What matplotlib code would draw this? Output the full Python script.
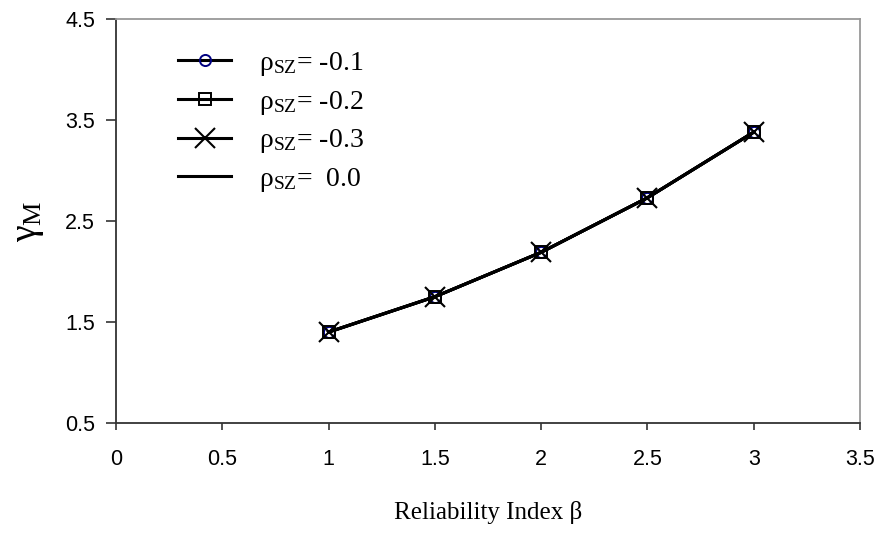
import matplotlib
matplotlib.use("Agg")
import matplotlib.pyplot as plt

beta = [1.0, 1.5, 2.0, 2.5, 3.0]
gamma_m01 = [1.40, 1.75, 2.19, 2.73, 3.38]
gamma_m02 = [1.40, 1.75, 2.19, 2.73, 3.38]
gamma_m03 = [1.40, 1.75, 2.19, 2.73, 3.38]
gamma_m00 = [1.40, 1.75, 2.19, 2.73, 3.38]
labels = ["-0.1", "-0.2", "-0.3", " 0.0"]
xticks = [0, 0.5, 1, 1.5, 2, 2.5, 3, 3.5]
yticks = [0.5, 1.5, 2.5, 3.5, 4.5]

plt.rcParams['mathtext.fontset'] = 'custom'
plt.rcParams['mathtext.rm'] = 'Liberation Serif'
plt.rcParams['mathtext.it'] = 'Liberation Serif:italic'

fig = plt.figure(figsize=(8.8, 5.44), dpi=100)
ax = fig.add_axes([116/880, 1-423/544, (860-116)/880, (423-19)/544])

ax.plot(beta, gamma_m01, color='black', lw=2.2, marker='o', ms=8, mfc='none',
        mec='#000080', mew=1.4, label='ρ$_{\\mathrm{SZ}}$= ' + labels[0])
ax.plot(beta, gamma_m02, color='black', lw=2.2, marker='s', ms=9, mfc='none',
        mec='black', mew=1.4, label='ρ$_{\\mathrm{SZ}}$= ' + labels[1])
ax.plot(beta, gamma_m03, color='black', lw=2.2, marker='x', ms=15, mec='black',
        mew=1.5, label='ρ$_{\\mathrm{SZ}}$= ' + labels[2])
ax.plot(beta, gamma_m00, color='black', lw=2.2,
        label='ρ$_{\\mathrm{SZ}}$= ' + labels[3])

ax.set_xlim(0, 3.5)
ax.set_ylim(0.5, 4.5)
ax.set_xticks(xticks)
ax.set_xticklabels([f"{t:g}" for t in xticks])
ax.set_yticks(yticks)
ax.set_yticklabels([f"{t:g}" for t in yticks])
ax.tick_params(axis='x', direction='out', length=5, width=1.2, color='#333333',
               labelsize=15.5, pad=14)
ax.tick_params(axis='y', direction='out', length=7, width=1.2, color='#333333',
               labelsize=15.5, pad=8)
for lab in ax.get_xticklabels() + ax.get_yticklabels():
    lab.set_fontfamily('Liberation Sans')

for s in ['left', 'bottom']:
    ax.spines[s].set_color('#333333')
    ax.spines[s].set_linewidth(1.3)
for s in ['top', 'right']:
    ax.spines[s].set_color('#999999')
    ax.spines[s].set_linewidth(1.3)

ax.set_xlabel('Reliability Index β', family='Liberation Serif', fontsize=18, labelpad=22)
ax.set_ylabel('γ$_{\\mathrm{M}}$', family='Liberation Serif', fontsize=27, labelpad=14)

leg = ax.legend(loc='upper left', bbox_to_anchor=(0.05, 0.985), frameon=False,
                prop={'family': 'Liberation Serif', 'size': 20},
                handlelength=1.9, labelspacing=0.385, handletextpad=1.0)

fig.savefig('out.png', dpi=100)
